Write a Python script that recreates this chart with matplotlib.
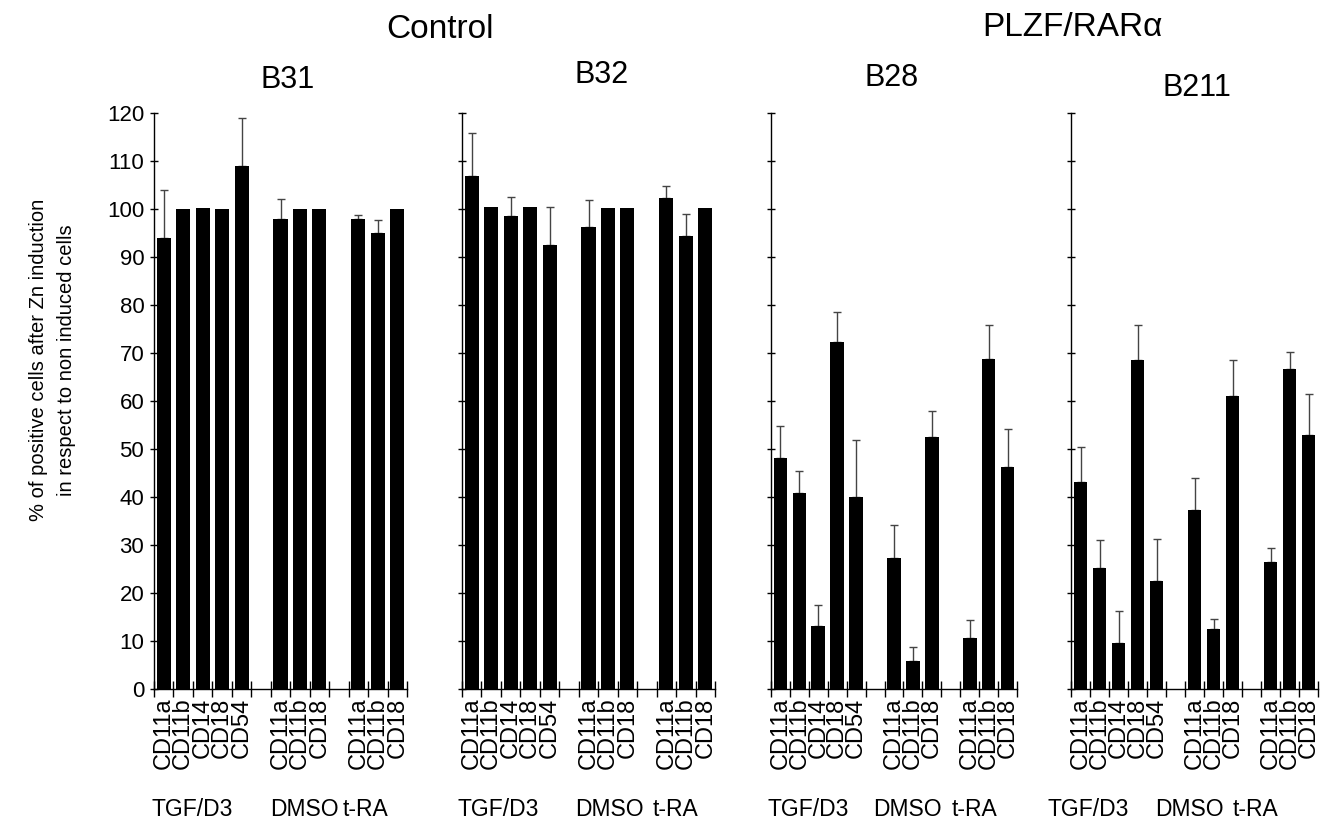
import matplotlib
matplotlib.use("Agg")
import matplotlib.pyplot as plt
import matplotlib.transforms as mtransforms
import numpy as np

plt.rcParams['font.family'] = ['Liberation Sans', 'DejaVu Sans']

#
# Daten
#
markers = ["CD11a", "CD11b", "CD14", "CD18", "CD54", "",
           "CD11a", "CD11b", "CD18", "",
           "CD11a", "CD11b", "CD18"]
treatments = ["TGF/D3", "DMSO", "t-RA"]
clones = ["B31", "B32", "B28", "B211"]
groups = ["Control", "PLZF/RARα"]

# np.nan = leerer Platz zwischen den Gruppen
b31_vals = [94.0, 100.0, 100.2, 100.0, 109.0, np.nan, 98.0, 100.0, 100.0, np.nan, 98.0, 95.0, 100.0]
b31_err = [10.0, 0, 0, 0, 10.0, 0, 4.0, 0, 0, 0, 0.8, 2.7, 0]
b32_vals = [106.9, 100.5, 98.6, 100.4, 92.4, np.nan, 96.2, 100.2, 100.2, np.nan, 102.2, 94.4, 100.2]
b32_err = [8.9, 0, 3.8, 0, 8.0, 0, 5.7, 0, 0, 0, 2.6, 4.5, 0]
b28_vals = [48.1, 40.8, 13.1, 72.2, 40.1, np.nan, 27.2, 5.9, 52.6, np.nan, 10.7, 68.7, 46.2]
b28_err = [6.7, 4.7, 4.3, 6.3, 11.8, 0, 7.0, 2.8, 5.4, 0, 3.7, 7.1, 7.9]
b211_vals = [43.1, 25.3, 9.6, 68.5, 22.4, np.nan, 37.2, 12.6, 61.0, np.nan, 26.5, 66.7, 53.0]
b211_err = [7.3, 5.7, 6.6, 7.4, 8.8, 0, 6.7, 1.9, 7.5, 0, 2.8, 3.5, 8.4]

values = [b31_vals, b32_vals, b28_vals, b211_vals]
errors = [b31_err, b32_err, b28_err, b211_err]

# Layout (Pixel im Original / Figurgroesse)
W, H = 1323, 821
fig = plt.figure(figsize=(W / 100, H / 100), dpi=100)

panel_x = [(154, 407), (462, 715), (771, 1017), (1071, 1318)]
y0, y120 = 689, 113
title_pos = [(288, 80), (602, 75), (892, 78), (1197, 88)]
treat_x = [(-0.01, 0.46, 0.745), (-0.016, 0.447, 0.755),
           (-0.016, 0.415, 0.736), (-0.097, 0.34, 0.656)]

x = np.arange(len(markers))
for i in range(4):
    xl, xr = panel_x[i]
    ax = fig.add_axes([xl / W, 1 - y0 / H, (xr - xl) / W, (y0 - y120) / H])
    vals = np.array(values[i])
    err = np.array(errors[i])
    ax.bar(x, vals, width=0.72, color='black', zorder=2)
    m = err > 0
    ax.errorbar(x[m], vals[m], yerr=[np.zeros(m.sum()), err[m]], fmt='none',
                ecolor='#444444', elinewidth=1.0, capsize=3, capthick=1.0, zorder=1)

    ax.set_xlim(-0.5, len(markers) - 0.5)
    ax.set_ylim(0, 120)
    ax.set_yticks(np.arange(0, 121, 10))
    for s in ['top', 'right']:
        ax.spines[s].set_visible(False)
    ax.spines['left'].set_linewidth(1.0)
    ax.spines['bottom'].set_linewidth(1.0)
    ax.tick_params(axis='y', direction='inout', length=6, width=1)
    if i == 0:
        ax.tick_params(axis='y', labelsize=16, pad=4)
    else:
        ax.tick_params(axis='y', labelleft=False)

    ax.set_xticks(np.arange(len(markers) + 1) - 0.5)
    ax.set_xticklabels([])
    ax.tick_params(axis='x', which='major', direction='inout', length=11, width=1)
    ax.set_xticks(x, minor=True)
    ax.set_xticklabels(markers, minor=True, rotation=90, fontsize=17)
    ax.tick_params(axis='x', which='minor', length=0, pad=6)

    trans = mtransforms.blended_transform_factory(ax.transAxes, fig.transFigure)
    for t, tx in zip(treatments, treat_x[i]):
        ax.text(tx, 1 - 809 / H, t, transform=trans, ha='left', va='center',
                fontsize=16.5)

    fig.text(title_pos[i][0] / W, 1 - title_pos[i][1] / H, clones[i],
             ha='center', va='center', fontsize=22)

fig.text(440 / W, 1 - 30 / H, groups[0], ha='center', va='center', fontsize=24)
fig.text(1072 / W, 1 - 28 / H, groups[1], ha='center', va='center', fontsize=24)

fig.text(52 / W, 1 - 360 / H,
         "% of positive cells after Zn induction\nin respect to non induced cells",
         rotation=90, ha='center', va='center', fontsize=14.5, linespacing=1.6)

fig.savefig("out.png", dpi=100)
